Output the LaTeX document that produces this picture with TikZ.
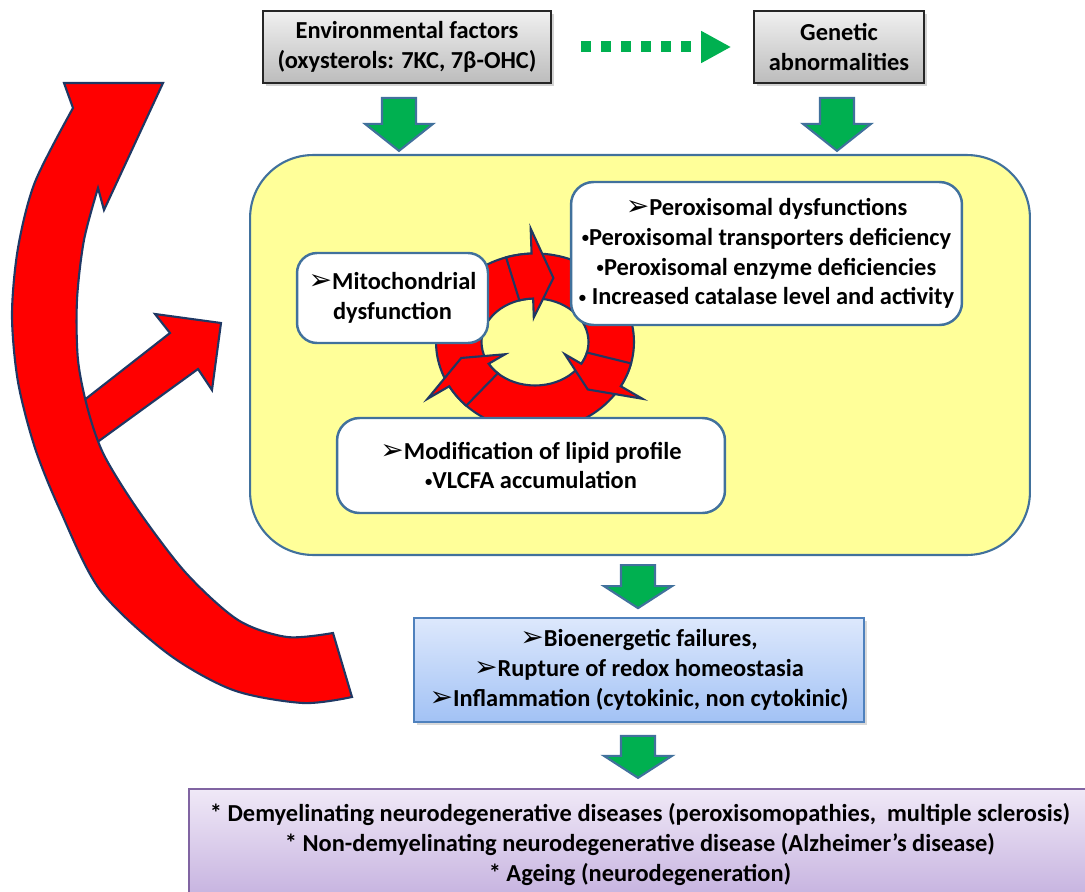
\documentclass[tikz,border=0pt]{standalone}
\usepackage{fontspec}
\setmainfont{Carlito}
\newfontfamily\dingfont{DejaVu Sans}[Scale=1.15]
\usepackage{tikz}
\usetikzlibrary{arrows.meta,positioning,calc,shadows}
\definecolor{oxred}{HTML}{FF0000}
\definecolor{oxnavy}{HTML}{1F3864}
\definecolor{oxgreen}{HTML}{00B050}
\definecolor{oxsteel}{HTML}{41719C}
\definecolor{oxyellow}{HTML}{FFFF99}
\definecolor{oxgreytop}{HTML}{F0F0F0}
\definecolor{oxgreybot}{HTML}{BCBCBC}
\definecolor{oxbluetop}{HTML}{DDE8FC}
\definecolor{oxbluebot}{HTML}{A2C2F5}
\definecolor{oxblueedge}{HTML}{4F81BD}
\definecolor{oxlilactop}{HTML}{F0E9F7}
\definecolor{oxlilacbot}{HTML}{C5B1DF}
\definecolor{oxlilacedge}{HTML}{8064A2}
\newcommand{\boxFont}{\fontsize{13.9}{17}\selectfont\bfseries}
\newcommand{\arrowMark}{{\dingfont ➢}}
\newcommand{\dotMark}{\raisebox{0.12em}{\scalebox{0.6}{•}}}
\tikzset{
  greyBox/.style={draw=black!85, line width=1pt, top color=oxgreytop, bottom color=oxgreybot, align=center, inner sep=0pt, font=\boxFont,
    drop shadow={shadow xshift=1.5pt, shadow yshift=-1.5pt, opacity=0.35}},
  cellBox/.style={draw=oxsteel, line width=1.2pt, fill=oxyellow, rounded corners=1.26cm, inner sep=0pt},
  whiteBox/.style={draw=oxsteel, line width=1.4pt, fill=white, rounded corners=0.45cm, align=center, inner sep=0pt, font=\boxFont},
  blueBox/.style={draw=oxblueedge, line width=1pt, top color=oxbluetop, bottom color=oxbluebot, align=center, inner sep=0pt, font=\boxFont,
    drop shadow={shadow xshift=1.5pt, shadow yshift=-1.5pt, opacity=0.3}},
  lilacBox/.style={draw=oxlilacedge, line width=1pt, top color=oxlilactop, bottom color=oxlilacbot, align=center, inner sep=0pt, font=\boxFont},
  greenArrow/.style={draw=oxsteel, line width=1.2pt, fill=oxgreen, line join=miter},
  redArrow/.style={draw=oxnavy, line width=1.2pt, fill=oxred, line join=miter},
  dotArrow/.style={draw=oxgreen, line width=0.22cm, dash pattern=on 0.2cm off 0.2cm, -{Triangle[length=0.6cm, width=0.6cm]}}
}
% block arrow pointing down: top point, shaft length, total length
\newcommand{\greenDown}[3]{\draw[greenArrow, shift={#1}] (-17,0) -- (-17,#2) -- (-34,#2) -- (0,#3) -- (34,#2) -- (17,#2) -- (17,0) -- cycle;}
% piece of the ring: tail angle, head angle, tip angle
\newcommand{\ringArrow}[3]{\draw[redArrow] plot[domain=#1:#2, samples=10] ({535+99*cos(\x)},{342+88.5*sin(\x)})
  -- ({535+124*cos(#2)},{342+113.5*sin(#2)}) -- ({535+76*cos(#3)},{342+66*sin(#3)})
  -- ({535+34.5*cos(#2)},{342+24.5*sin(#2)})
  -- plot[domain=#2:#1, samples=10] ({535+53.5*cos(\x)},{342+43.5*sin(\x)}) -- cycle;}

\begin{document}
\begin{tikzpicture}[x=0.02cm,y=-0.02cm]
  \useasboundingbox (0,0) rectangle (1085,892);
  % central cell
  \node[cellBox, minimum width=15.6cm, minimum height=8cm] (cell) at (640,355) {};
  \coordinate (ringC) at (535,342);
  \draw[redArrow, even odd rule] (ringC) ellipse [x radius=1.98cm, y radius=1.77cm] (ringC) ellipse [x radius=1.07cm, y radius=0.87cm];
  \ringArrow{253}{268}{284}
  \ringArrow{14}{30}{46}
  \ringArrow{134}{150}{166}
  \node[whiteBox, minimum width=7.82cm, minimum height=2.86cm] (perox) at (766.5,253.5)
    {\arrowMark Peroxisomal dysfunctions\\\dotMark Peroxisomal transporters deficiency\\\dotMark Peroxisomal enzyme deficiencies\\\dotMark\ Increased catalase level and activity};
  \node[whiteBox, rounded corners=0.4cm, minimum width=3.82cm, minimum height=1.8cm] (mito) at (392.5,298)
    {\arrowMark Mitochondrial\\dysfunction};
  \node[whiteBox, minimum width=7.76cm, minimum height=1.9cm] (lipid) at (531,465.5)
    {\arrowMark Modification of lipid profile\\\dotMark VLCFA accumulation};
  % causes
  \node[greyBox, minimum width=5.76cm, minimum height=1.44cm] (env) at (407,47)
    {Environmental factors\\(oxysterols: 7KC, 7β-OHC)};
  \node[greyBox, minimum width=3.4cm, minimum height=1.44cm] (gen) at (839,47)
    {Genetic\\abnormalities};
  \draw[dotArrow] ([xshift=0.58cm]env.east) -- ([xshift=-0.44cm]gen.west);
  \greenDown{($(env.south)+(-8,14)$)}{26}{53}
  \greenDown{($(gen.south)+(-2,14)$)}{26}{53}
  % consequences
  \node[blueBox, minimum width=9cm, minimum height=2.08cm] (stress) at (639,670)
    {\arrowMark Bioenergetic failures,\\\arrowMark Rupture of redox homeostasia\\\arrowMark Inflammation (cytokinic, non cytokinic)};
  \node[lilacBox, minimum width=18.04cm, minimum height=2.22cm] (disease) at (640,844.5)
    {* Demyelinating neurodegenerative diseases (peroxisomopathies,\ \ multiple sclerosis)\\* Non-demyelinating neurodegenerative disease (Alzheimer’s disease)\\* Ageing (neurodegeneration)};
  \greenDown{($(stress.north)+(-1,-52)$)}{21}{43}
  \greenDown{($(stress.south)+(-1,13)$)}{20}{42}
  % feedback loop
  \draw[redArrow] (60,419) -- (170,333) -- (155,314) -- (221,323) -- (212,390) -- (198,369) -- (70,462) -- cycle;
  \draw[redArrow] plot[smooth] coordinates {(352,697) (303,703) (233,690) (167,653) (100,590) (60,510) (35,448) (18,382) (12,315) (18,248) (35,182) (73,108)}
    -- (64,83) -- (163,83) -- (104,210)
    -- plot[smooth] coordinates {(98,188) (84,240) (77,300) (78,360) (88,410) (104,455) (138,510) (186,573) (238,620) (287,637) (333,633)} -- cycle;
\end{tikzpicture}
\end{document}
